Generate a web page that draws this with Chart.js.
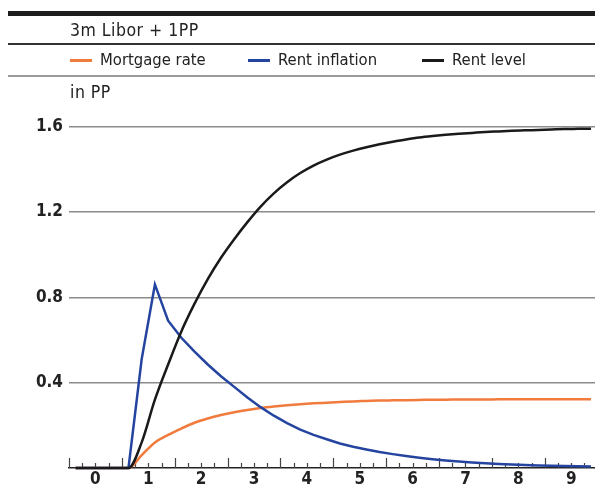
<!DOCTYPE html>
<html>
<head>
<meta charset="utf-8">
<script src="https://cdn.jsdelivr.net/npm/chart.js@4/dist/chart.umd.min.js"></script>
<style>
  body { margin: 0; background: #fff; }
  #wrap { position: relative; width: 595px; height: 488px; overflow: hidden; font-family: "DejaVu Sans Condensed", "DejaVu Sans", sans-serif; color: #222; }
  #wrap canvas { position: absolute; left: 0; top: 0; }
  .rule { position: absolute; left: 8px; right: 0; }
  .txt { position: absolute; font-size: 16.5px; line-height: 20px; white-space: nowrap; }
  .head { font-size: 17.5px; letter-spacing: 0.5px; }
  .key { position: absolute; height: 2.5px; width: 22px; }
</style>
</head>
<body>
<div id="wrap">
  <canvas id="myChart" width="595" height="488"></canvas>
  <div class="rule" style="top:11px;height:5px;background:#1e1e1e"></div>
  <div class="txt head" style="left:70px;top:20px">3m Libor + 1PP</div>
  <div class="rule" style="top:43px;height:1.5px;background:#333"></div>
  <div id="legend"></div>
  <div class="rule" style="top:75px;height:2px;background:#9a9a9a"></div>
  <div class="txt head" style="left:70px;top:82px">in PP</div>
</div>
<script>
// quarters since the rate hike (points sit mid-quarter), year labels below
const quarters = [0.5, 1.5, 2.5, 3.5, 4.5, 5.5, 6.5, 7.5, 8.5, 9.5,
  10.5, 11.5, 12.5, 13.5, 14.5, 15.5, 16.5, 17.5, 18.5, 19.5,
  20.5, 21.5, 22.5, 23.5, 24.5, 25.5, 26.5, 27.5, 28.5, 29.5,
  30.5, 31.5, 32.5, 33.5, 34.5, 35.5, 36.5, 37.5, 38.5, 39.5];
const yearLabels = ['0', '1', '2', '3', '4', '5', '6', '7', '8', '9'];
const yTicks = [0.4, 0.8, 1.2, 1.6];

const mortgageRate = [0, 0, 0, 0, 0, 0.06, 0.12, 0.155, 0.185, 0.212,
  0.232, 0.248, 0.261, 0.272, 0.281, 0.288, 0.294, 0.299, 0.303, 0.306,
  0.309, 0.312, 0.314, 0.316, 0.317, 0.318, 0.319, 0.32, 0.32, 0.321,
  0.321, 0.321, 0.322, 0.322, 0.322, 0.322, 0.322, 0.322, 0.322, 0.322];
const rentInflation = [0, 0, 0, 0, 0, 0.51, 0.86, 0.69, 0.61, 0.545,
  0.485, 0.43, 0.38, 0.33, 0.285, 0.245, 0.21, 0.18, 0.155, 0.135,
  0.115, 0.1, 0.087, 0.075, 0.065, 0.056, 0.048, 0.041, 0.035, 0.03,
  0.026, 0.022, 0.019, 0.016, 0.014, 0.012, 0.01, 0.009, 0.008, 0.007];
const rentLevel = [0, 0, 0, 0, 0, 0.12, 0.32, 0.485, 0.64, 0.77,
  0.885, 0.985, 1.072, 1.152, 1.225, 1.287, 1.339, 1.382, 1.417, 1.445,
  1.468, 1.487, 1.503, 1.517, 1.529, 1.539, 1.548, 1.555, 1.561, 1.566,
  1.57, 1.574, 1.577, 1.58, 1.582, 1.584, 1.586, 1.588, 1.589, 1.59];

const series = [
  { label: 'Mortgage rate', values: mortgageRate, color: '#f07b3c', keyX: 70, smooth: true },
  { label: 'Rent inflation', values: rentInflation, color: '#2444a0', keyX: 248, smooth: false },
  { label: 'Rent level', values: rentLevel, color: '#1a1a1a', keyX: 422, smooth: true },
];

// legend row
const legend = document.getElementById('legend');
series.forEach(s => {
  const k = document.createElement('div');
  k.className = 'key';
  k.style.left = s.keyX + 'px';
  k.style.top = '59px';
  k.style.background = s.color;
  legend.appendChild(k);
  const t = document.createElement('div');
  t.className = 'txt';
  t.style.left = (s.keyX + 30) + 'px';
  t.style.top = '50px';
  t.textContent = s.label;
  legend.appendChild(t);
});

// small upward ticks on the x axis, longer at each year boundary
const quarterTicks = {
  id: 'quarterTicks',
  beforeDatasetsDraw(chart) {
    const ctx = chart.ctx;
    const xs = chart.scales.x;
    const bottom = chart.chartArea.bottom;
    ctx.save();
    ctx.strokeStyle = '#444';
    ctx.lineWidth = 1.2;
    for (let q = 0; q <= 39; q++) {
      const px = Math.round(xs.getPixelForValue(q)) + 0.5;
      const len = q % 4 === 0 ? 10 : 5;
      ctx.beginPath();
      ctx.moveTo(px, bottom);
      ctx.lineTo(px, bottom - len);
      ctx.stroke();
    }
    ctx.restore();
  }
};

const ctx = document.getElementById('myChart').getContext('2d');
const myChart = new Chart(ctx, {
  type: 'line',
  data: {
    datasets: series.map((s, i) => ({
      label: s.label,
      data: quarters.map((q, j) => ({ x: q, y: s.values[j] })),
      borderColor: s.color,
      backgroundColor: s.color,
      borderWidth: 2.5,
      pointRadius: 0,
      tension: 0,
      cubicInterpolationMode: s.smooth ? 'monotone' : 'default',
      clip: false,
      order: 3 - i,
    }))
  },
  options: {
    responsive: false,
    animation: false,
    devicePixelRatio: 1,
    layout: { padding: { top: 126.5, right: 0, left: 0, bottom: 0 } },
    plugins: {
      legend: { display: false },
      tooltip: { enabled: false },
    },
    scales: {
      x: {
        type: 'linear',
        min: 0,
        max: 39.8,
        afterBuildTicks: (scale) => {
          scale.ticks = yearLabels.map((_, i) => ({ value: 2 + 4 * i }));
        },
        afterFit: (scale) => { scale.height = 20; },
        grid: { display: false, drawTicks: false },
        border: { display: true, color: '#222', width: 1.5 },
        ticks: {
          autoSkip: false,
          maxRotation: 0,
          padding: 3,
          color: '#222',
          font: { family: '"DejaVu Sans Condensed", "DejaVu Sans"', size: 17, weight: 'bold', lineHeight: 1 },
          callback: (v) => yearLabels[(v - 2) / 4],
        },
      },
      y: {
        min: 0,
        max: 1.6,
        afterBuildTicks: (scale) => {
          scale.ticks = yTicks.map(v => ({ value: v }));
        },
        afterFit: (scale) => { scale.width = 69; },
        grid: { color: '#8c8c8c', lineWidth: 1.5, drawTicks: false },
        border: { display: false },
        ticks: {
          padding: 6,
          color: '#222',
          font: { family: '"DejaVu Sans Condensed", "DejaVu Sans"', size: 17, weight: 'bold' },
          callback: (v) => v.toFixed(1),
        },
      },
    },
  },
  plugins: [quarterTicks],
});
</script>
</body>
</html>
